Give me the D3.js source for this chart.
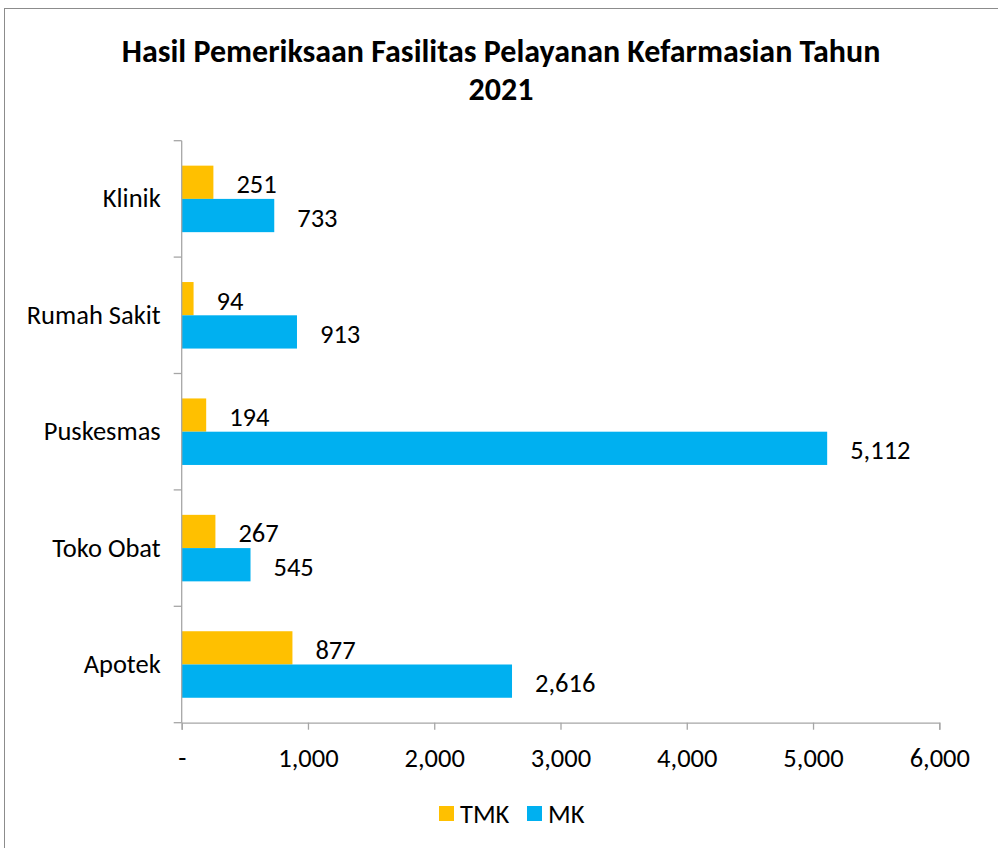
<!DOCTYPE html>
<html>
<head>
<meta charset="utf-8">
<script src="https://cdn.jsdelivr.net/npm/d3@7"></script>
<style>
  body { margin: 0; background: #fff; }
  svg { display: block; font-family: Carlito, Calibri, Lato, sans-serif; }
</style>
</head>
<body>
<div class="chart"></div>
<script>
// data
const categories = ["Klinik", "Rumah Sakit", "Puskesmas", "Toko Obat", "Apotek"];
const seriesNames = ["TMK", "MK"];
const tmkValues = [251, 94, 194, 267, 877];
const mkValues = [733, 913, 5112, 545, 2616];
const xTicks = [0, 1000, 2000, 3000, 4000, 5000, 6000];
const colors = ["#FFC000", "#00B0F0"];

const data = categories.map((c, i) => ({cat: c, TMK: tmkValues[i], MK: mkValues[i]}));

const W = 998, H = 848;
const margin = ({top: 140.7, right: 58.7, bottom: 125.3, left: 181.7});
const width = W - margin.left - margin.right;
const height = H - margin.top - margin.bottom;
const fs = 26.5;

const svg = d3.select(".chart")
    .append("svg")
    .attr("width", W)
    .attr("height", H);

// outer frame (right and bottom edges fall outside the picture)
svg.append("rect")
    .attr("x", 4.5).attr("y", 8.5)
    .attr("width", 1100).attr("height", 1000)
    .attr("fill", "none")
    .attr("stroke", "#8c8c8c")
    .attr("stroke-width", 1);

// title
const title = svg.append("text")
    .attr("text-anchor", "middle")
    .attr("font-weight", "bold")
    .attr("font-size", 32)
    .attr("fill", "#000");
title.append("tspan").attr("x", 501).attr("y", 62).text("Hasil Pemeriksaan Fasilitas Pelayanan Kefarmasian Tahun");
title.append("tspan").attr("x", 501).attr("y", 100).text("2021");

const g = svg.append("g")
    .attr("transform", `translate(${margin.left},${margin.top})`);

const xScale = d3.scaleLinear()
    .domain([0, 6000])
    .range([0, width]);

const yScale = d3.scaleBand()
    .domain(categories)
    .range([0, height])
    .padding(0);

// gap width 150% -> two bars take 2/3.5 of the band
const subScale = d3.scaleBand()
    .domain(seriesNames)
    .range([0, yScale.bandwidth()])
    .paddingInner(0)
    .paddingOuter(0.75);

// bars
const groups = g.selectAll(".cat")
    .data(data)
    .join("g")
    .attr("class", "cat")
    .attr("transform", d => `translate(0,${yScale(d.cat)})`);

groups.selectAll("rect")
    .data(d => seriesNames.map((s, i) => ({key: s, value: d[s], color: colors[i]})))
    .join("rect")
    .attr("x", 0)
    .attr("y", d => subScale(d.key))
    .attr("width", d => xScale(d.value))
    .attr("height", subScale.bandwidth())
    .attr("fill", d => d.color);

// value labels
groups.selectAll("text")
    .data(d => seriesNames.map(s => ({key: s, value: d[s]})))
    .join("text")
    .attr("x", d => xScale(d.value) + 23)
    .attr("y", d => subScale(d.key) + subScale.bandwidth() / 2 + 2)
    .attr("dominant-baseline", "central")
    .attr("font-size", fs)
    .attr("fill", "#000")
    .text(d => d3.format(",")(d.value));

// x axis
const xAxis = d3.axisBottom(xScale)
    .tickValues(xTicks)
    .tickSize(7)
    .tickPadding(18)
    .tickFormat(d => d === 0 ? "-" : d3.format(",")(d));

g.append("g")
    .attr("class", "axis x-axis")
    .attr("transform", `translate(0,${height})`)
    .call(xAxis)
    .attr("font-family", null)
    .attr("font-size", fs)
    .call(a => a.select(".domain").attr("stroke", "#a6a6a6").attr("stroke-width", 1.3))
    .call(a => a.selectAll(".tick line").attr("stroke", "#a6a6a6").attr("stroke-width", 1.3))
    .call(a => a.selectAll("text").attr("fill", "#000"));

// y axis: labels at band centres, ticks at band boundaries
const yAxis = d3.axisLeft(yScale)
    .tickSize(0)
    .tickPadding(21);

g.append("g")
    .attr("class", "axis y-axis")
    .call(yAxis)
    .attr("font-family", null)
    .attr("font-size", fs)
    .call(a => a.select(".domain").remove())
    .call(a => a.selectAll("text").attr("fill", "#000"));

const bounds = categories.map(c => yScale(c)).concat([yScale.range()[1]]);
g.append("line")
    .attr("x1", 0).attr("x2", 0)
    .attr("y1", 0).attr("y2", height)
    .attr("stroke", "#a6a6a6").attr("stroke-width", 1.3);
g.selectAll(".ytick")
    .data(bounds)
    .join("line")
    .attr("class", "ytick")
    .attr("x1", -8).attr("x2", 0)
    .attr("y1", d => d).attr("y2", d => d)
    .attr("stroke", "#a6a6a6").attr("stroke-width", 1.3);

// legend
const legend = svg.append("g")
    .attr("transform", "translate(439,806)");
const legendX = d3.scaleOrdinal().domain(seriesNames).range([0, 88]);
const item = legend.selectAll("g")
    .data(seriesNames)
    .join("g")
    .attr("transform", d => `translate(${legendX(d)},0)`);
item.append("rect")
    .attr("width", 15).attr("height", 15)
    .attr("fill", (d, i) => colors[i]);
item.append("text")
    .attr("x", 21)
    .attr("y", 8)
    .attr("dominant-baseline", "central")
    .attr("font-size", fs)
    .attr("fill", "#000")
    .text(d => d);
</script>
</body>
</html>
